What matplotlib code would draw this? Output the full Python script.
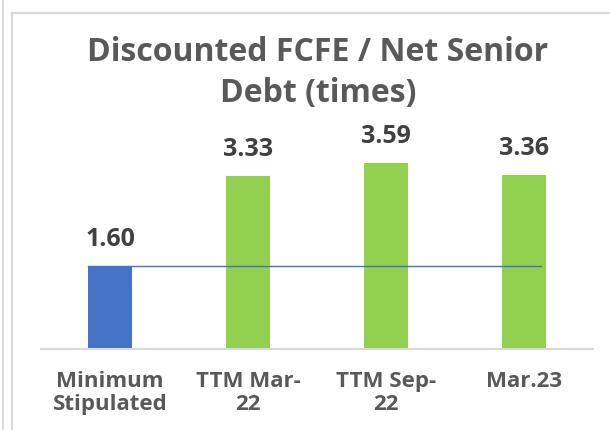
import matplotlib.pyplot as plt
from matplotlib.lines import Line2D

categories = ['Minimum\nStipulated', 'TTM Mar-\n22', 'TTM Sep-\n22', 'Mar.23']
values = [1.60, 3.33, 3.59, 3.36]
bar_colors = ['#4472C4', '#92D050', '#92D050', '#92D050']
minimum = 1.60

plt.rcParams['font.family'] = ['Open Sans', 'DejaVu Sans']

fig = plt.figure(figsize=(6.1, 4.3), dpi=100)

# panel borders
fig.add_artist(Line2D([3 / 610, 3 / 610], [0, 1], color='#d9d9d9', lw=1.5))
fig.add_artist(Line2D([12 / 610, 12 / 610], [0, 1 - 13 / 430], color='#d9d9d9', lw=1.5))
fig.add_artist(Line2D([12 / 610, 1], [1 - 13 / 430, 1 - 13 / 430], color='#d9d9d9', lw=1.5))

ax = fig.add_axes([41 / 610, 81 / 430, 552 / 610, 207.6 / 430])
x = range(len(categories))
ax.bar(x, values, width=0.32, color=bar_colors, zorder=2)
ax.plot([-0.16, 3.12], [minimum, minimum], color='#4472C4', lw=1, zorder=3)

for xi, v in zip(x, values):
    ax.annotate(f'{v:.2f}', (xi, v), xytext=(0, 10), textcoords='offset points',
                ha='center', va='bottom', fontsize=18, fontweight='bold', color='#404040')

ax.set_xlim(-0.5, 3.5)
ax.set_ylim(0, 4)
ax.set_xticks(list(x))
ax.set_xticklabels(categories, fontsize=16, fontweight='bold', color='#595959', linespacing=1.12)
ax.tick_params(axis='x', length=0, pad=16)
ax.set_yticks([])
for s in ['top', 'right', 'left']:
    ax.spines[s].set_visible(False)
ax.spines['bottom'].set_color('#d9d9d9')
ax.spines['bottom'].set_linewidth(1.5)

fig.text(318 / 610, 1 - 73 / 430, 'Discounted FCFE / Net Senior\nDebt (times)', ha='center', va='center',
         fontsize=23, fontweight='bold', color='#595959', linespacing=1.3)

fig.savefig('out.png', dpi=100)
